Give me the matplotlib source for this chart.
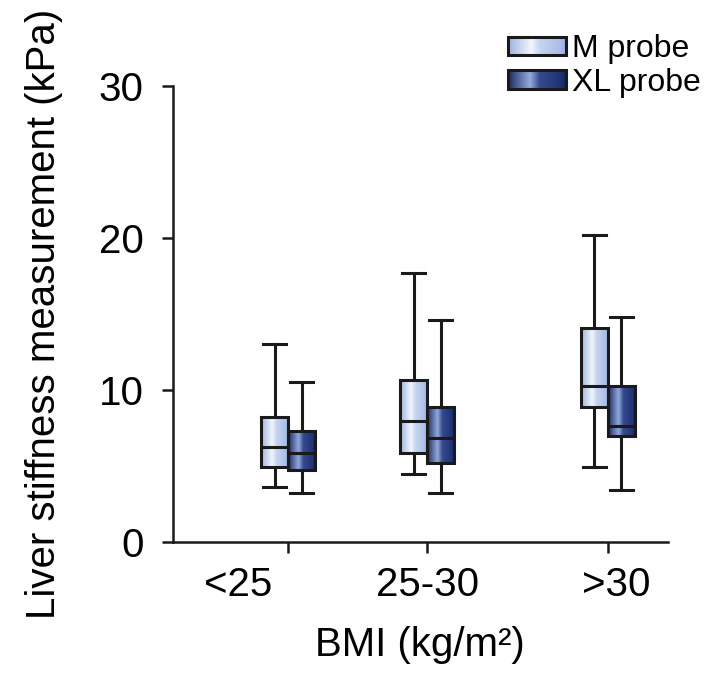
import numpy as np
import matplotlib
matplotlib.use('Agg')
import matplotlib.pyplot as plt
from matplotlib.colors import LinearSegmentedColormap
from matplotlib.legend_handler import HandlerBase
from matplotlib.image import BboxImage
from matplotlib.transforms import Bbox, TransformedBbox, ScaledTranslation
from matplotlib.patches import Rectangle

plt.rcParams['font.family'] = ['Liberation Sans', 'DejaVu Sans']

# data (kPa)
groups = ['<25', '25-30', '>30']
group_pos = [1.0, 2.0, 3.3]

m_low = [3.6, 4.5, 4.9]
m_q1 = [4.9, 5.85, 8.9]
m_med = [6.25, 7.95, 10.25]
m_q3 = [8.2, 10.65, 14.1]
m_high = [13.0, 17.7, 20.2]

xl_low = [3.2, 3.2, 3.4]
xl_q1 = [4.75, 5.2, 6.95]
xl_med = [5.85, 6.85, 7.65]
xl_q3 = [7.3, 8.9, 10.25]
xl_high = [10.5, 14.6, 14.8]

series = ['M probe', 'XL probe']

cmap_m = LinearSegmentedColormap.from_list(
    'm', [(0, '#9cb2de'), (0.4, '#f2f6fc'), (0.55, '#c6d5f0'), (0.9, '#aabee6'), (1, '#97addb')])
cmap_xl = LinearSegmentedColormap.from_list(
    'xl', [(0, '#1a2a63'), (0.38, '#93aadb'), (0.55, '#34498e'), (0.9, '#1f3273'), (1, '#16255a')])
grad = np.linspace(0, 1, 256).reshape(1, -1)

lw = 2.2
box_w = 0.195
ink = '#1a1a1a'


def make_stats(low, q1, med, q3, high):
    return [dict(whislo=a, q1=b, med=c, q3=d, whishi=e, fliers=[])
            for a, b, c, d, e in zip(low, q1, med, q3, high)]


fig = plt.figure(figsize=(7.21, 6.73), dpi=100)
ax = fig.add_axes([0.24, 0.1947, 0.686, 0.6775])

line_props = dict(color=ink, linewidth=lw)
for stats, off, cmap in [(make_stats(m_low, m_q1, m_med, m_q3, m_high), -box_w / 2, cmap_m),
                         (make_stats(xl_low, xl_q1, xl_med, xl_q3, xl_high), box_w / 2, cmap_xl)]:
    pos = [p + off for p in group_pos]
    ax.bxp(stats, positions=pos, widths=box_w, patch_artist=True, showfliers=False,
           boxprops=dict(facecolor='none', edgecolor=ink, linewidth=lw, zorder=4),
           medianprops=dict(color=ink, linewidth=lw, zorder=5),
           whiskerprops=line_props, capprops=line_props, capwidths=box_w * 0.85,
           manage_ticks=False)
    for p, s in zip(pos, stats):
        ax.imshow(grad, cmap=cmap, aspect='auto', interpolation='bicubic', zorder=3,
                  extent=(p - box_w / 2, p + box_w / 2, s['q1'], s['q3']))

ax.set_xlim(0.17, 3.73)
ax.set_ylim(0, 30)
ax.set_yticks([0, 10, 20, 30])
ax.set_xticks(group_pos)
ax.set_xticklabels(groups)
ax.spines['top'].set_visible(False)
ax.spines['right'].set_visible(False)
for sp in ['left', 'bottom']:
    ax.spines[sp].set_linewidth(1.8)
    ax.spines[sp].set_color(ink)
ax.tick_params(axis='both', labelsize=29, length=8, width=1.8, color=ink)
ax.tick_params(axis='y', pad=13)
ax.tick_params(axis='x', pad=9)

# x tick labels are not centred on their ticks in the original
shifts = [-50, 0, 8]
for lab, dx in zip(ax.get_xticklabels(), shifts):
    lab.set_transform(lab.get_transform() + ScaledTranslation(dx / 100, 0, fig.dpi_scale_trans))

ax.set_ylabel('Liver stiffness measurement (kPa)', fontsize=29, labelpad=26)
ax.set_xlabel('BMI (kg/m²)', fontsize=29, labelpad=16)


class GradHandler(HandlerBase):
    def create_artists(self, legend, orig_handle, xdescent, ydescent, width, height, fontsize, trans):
        bb = TransformedBbox(Bbox.from_bounds(-xdescent, -ydescent, width, height), trans)
        img = BboxImage(bb, cmap=orig_handle.cmap, interpolation='bicubic')
        img.set_data(grad)
        rect = Rectangle((-xdescent, -ydescent), width, height, fill=False,
                         edgecolor=ink, linewidth=lw, transform=trans)
        return [img, rect]


class GradKey:
    def __init__(self, cmap):
        self.cmap = cmap


keys = [GradKey(cmap_m), GradKey(cmap_xl)]
fig.legend(keys, series, handler_map={GradKey: GradHandler()}, loc='upper right',
           bbox_to_anchor=(701 / 721, 1 - 34 / 673), frameon=False, fontsize=23,
           borderpad=0, borderaxespad=0,
           handlelength=1.8, handleheight=0.5, handletextpad=0.2, labelspacing=0.12)

fig.savefig('out.png', dpi=100)
